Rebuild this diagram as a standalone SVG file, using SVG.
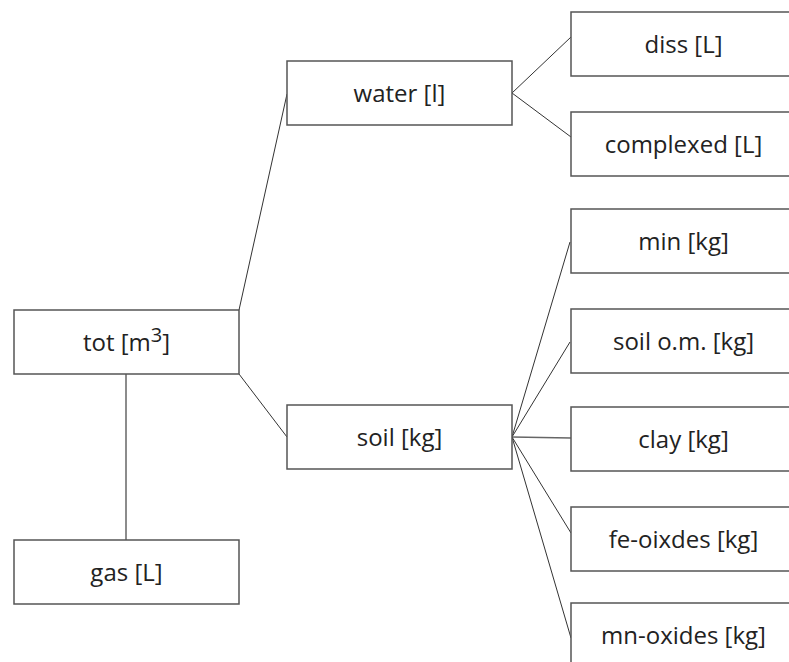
<svg xmlns="http://www.w3.org/2000/svg" width="789" height="662" viewBox="0 0 789 662">
<style>
.box{fill:#fff;stroke:#555;stroke-width:1.5}
.lbl{font-family:"Open Sans","Noto Sans",sans-serif;font-size:24px;fill:#222;text-anchor:middle}
.edge{stroke:#333;stroke-width:1;fill:none}
</style>
<rect width="789" height="662" fill="#fff"/>
<g id="connectors">
<line class="edge" x1="126" y1="374" x2="126" y2="540" style="stroke:#666;stroke-width:1.5"/>
<line class="edge" x1="239" y1="310" x2="287" y2="94"/>
<line class="edge" x1="239" y1="374" x2="287" y2="437"/>
<line class="edge" x1="512" y1="93" x2="571" y2="37"/>
<line class="edge" x1="512" y1="93" x2="571" y2="137"/>
<line class="edge" x1="512" y1="437" x2="570" y2="242"/>
<line class="edge" x1="512" y1="437" x2="570" y2="342"/>
<line class="edge" x1="512" y1="437" x2="571" y2="438" style="stroke:#666;stroke-width:1.5"/>
<line class="edge" x1="512" y1="437" x2="571" y2="533"/>
<line class="edge" x1="512" y1="437" x2="571" y2="638"/>
</g>
<g id="tot"><rect class="box" x="14" y="310" width="225" height="64"/><text class="lbl" x="126.5" y="351">tot [m<tspan font-size="20" dy="-9">3</tspan><tspan dy="9">]</tspan></text></g>
<g id="gas"><rect class="box" x="14" y="540" width="225" height="64"/><text class="lbl" x="126.5" y="581">gas [L]</text></g>
<g id="water"><rect class="box" x="287" y="61" width="225" height="64"/><text class="lbl" x="399.5" y="102">water [l]</text></g>
<g id="soil"><rect class="box" x="287" y="405" width="225" height="64"/><text class="lbl" x="399.5" y="446">soil [kg]</text></g>
<g id="diss"><rect class="box" x="571" y="12" width="225" height="64"/><text class="lbl" x="683.5" y="53">diss [L]</text></g>
<g id="complexed"><rect class="box" x="571" y="112" width="225" height="64"/><text class="lbl" x="683.5" y="153">complexed [L]</text></g>
<g id="min"><rect class="box" x="571" y="209" width="225" height="64"/><text class="lbl" x="683.5" y="250">min [kg]</text></g>
<g id="soilom"><rect class="box" x="571" y="309" width="225" height="64"/><text class="lbl" x="683.5" y="350">soil o.m. [kg]</text></g>
<g id="clay"><rect class="box" x="571" y="407" width="225" height="64"/><text class="lbl" x="683.5" y="448">clay [kg]</text></g>
<g id="feoxides"><rect class="box" x="571" y="507" width="225" height="64"/><text class="lbl" x="683.5" y="548">fe-oixdes [kg]</text></g>
<g id="mnoxides"><rect class="box" x="571" y="603" width="225" height="64"/><text class="lbl" x="683.5" y="644">mn-oxides [kg]</text></g>
</svg>
